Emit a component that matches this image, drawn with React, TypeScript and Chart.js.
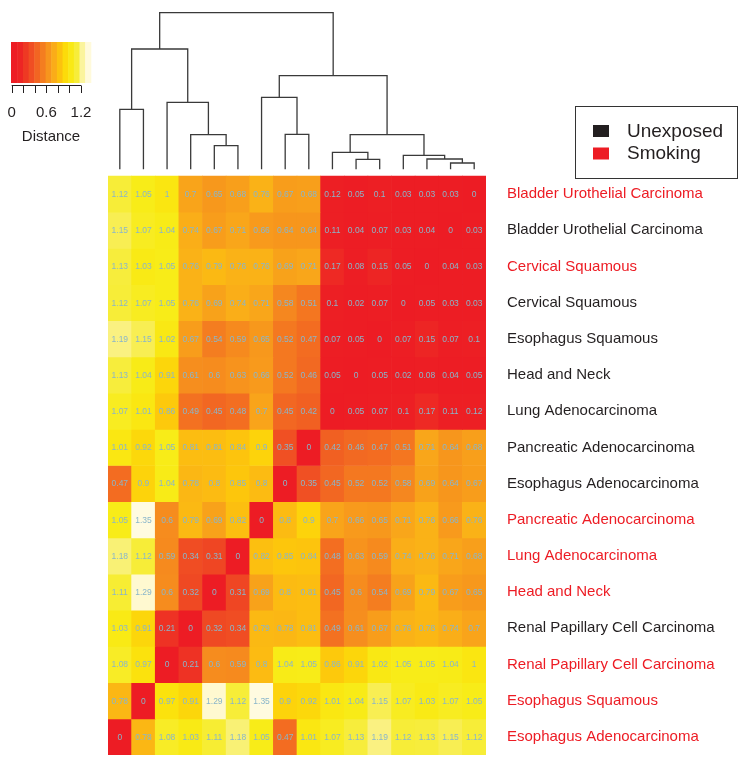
import React, { useEffect, useRef } from 'react';
import { Chart, registerables } from 'chart.js';

Chart.register(...registerables);

// ---------- data ----------
const ROW_LABELS = [
  'Bladder Urothelial Carcinoma',
  'Bladder Urothelial Carcinoma',
  'Cervical Squamous',
  'Cervical Squamous',
  'Esophagus Squamous',
  'Head and Neck',
  'Lung Adenocarcinoma',
  'Pancreatic Adenocarcinoma',
  'Esophagus Adenocarcinoma',
  'Pancreatic Adenocarcinoma',
  'Lung Adenocarcinoma',
  'Head and Neck',
  'Renal Papillary Cell Carcinoma',
  'Renal Papillary Cell Carcinoma',
  'Esophagus Squamous',
  'Esophagus Adenocarcinoma',
];

const ROW_GROUPS = [
  'Smoking', 'Unexposed', 'Smoking', 'Unexposed', 'Unexposed', 'Unexposed',
  'Unexposed', 'Unexposed', 'Unexposed', 'Smoking', 'Smoking', 'Smoking',
  'Unexposed', 'Smoking', 'Smoking', 'Smoking',
];

const COLUMNS = [0, 1, 2, 3, 4, 5, 6, 7, 8, 9, 10, 11, 12, 13, 14, 15];

const DISTANCES: number[][] = [
  [1.12, 1.05, 1, 0.7, 0.65, 0.68, 0.76, 0.67, 0.68, 0.12, 0.05, 0.1, 0.03, 0.03, 0.03, 0],
  [1.15, 1.07, 1.04, 0.74, 0.67, 0.71, 0.66, 0.64, 0.64, 0.11, 0.04, 0.07, 0.03, 0.04, 0, 0.03],
  [1.13, 1.03, 1.05, 0.76, 0.79, 0.76, 0.76, 0.69, 0.71, 0.17, 0.08, 0.15, 0.05, 0, 0.04, 0.03],
  [1.12, 1.07, 1.05, 0.76, 0.69, 0.74, 0.71, 0.58, 0.51, 0.1, 0.02, 0.07, 0, 0.05, 0.03, 0.03],
  [1.19, 1.15, 1.02, 0.67, 0.54, 0.59, 0.65, 0.52, 0.47, 0.07, 0.05, 0, 0.07, 0.15, 0.07, 0.1],
  [1.13, 1.04, 0.91, 0.61, 0.6, 0.63, 0.66, 0.52, 0.46, 0.05, 0, 0.05, 0.02, 0.08, 0.04, 0.05],
  [1.07, 1.01, 0.86, 0.49, 0.45, 0.48, 0.7, 0.45, 0.42, 0, 0.05, 0.07, 0.1, 0.17, 0.11, 0.12],
  [1.01, 0.92, 1.05, 0.81, 0.81, 0.84, 0.9, 0.35, 0, 0.42, 0.46, 0.47, 0.51, 0.71, 0.64, 0.68],
  [0.47, 0.9, 1.04, 0.78, 0.8, 0.85, 0.8, 0, 0.35, 0.45, 0.52, 0.52, 0.58, 0.69, 0.64, 0.67],
  [1.05, 1.35, 0.6, 0.79, 0.69, 0.82, 0, 0.8, 0.9, 0.7, 0.66, 0.65, 0.71, 0.76, 0.66, 0.76],
  [1.18, 1.12, 0.59, 0.34, 0.31, 0, 0.82, 0.85, 0.84, 0.48, 0.63, 0.59, 0.74, 0.76, 0.71, 0.68],
  [1.11, 1.29, 0.6, 0.32, 0, 0.31, 0.69, 0.8, 0.81, 0.45, 0.6, 0.54, 0.69, 0.79, 0.67, 0.65],
  [1.03, 0.91, 0.21, 0, 0.32, 0.34, 0.79, 0.78, 0.81, 0.49, 0.61, 0.67, 0.76, 0.78, 0.74, 0.7],
  [1.08, 0.97, 0, 0.21, 0.6, 0.59, 0.8, 1.04, 1.05, 0.86, 0.91, 1.02, 1.05, 1.05, 1.04, 1],
  [0.78, 0, 0.97, 0.91, 1.29, 1.12, 1.35, 0.9, 0.92, 1.01, 1.04, 1.15, 1.07, 1.03, 1.07, 1.05],
  [0, 0.78, 1.08, 1.03, 1.11, 1.18, 1.05, 0.47, 1.01, 1.07, 1.13, 1.19, 1.12, 1.13, 1.15, 1.12],
];

// dendrogram over columns: nodes 0..15 are leaves, 16+k is merge k
const DEND_LEFT = [0, 4, 3, 2, 16, 7, 6, 10, 9, 14, 13, 12, 24, 22, 20];
const DEND_RIGHT = [1, 5, 17, 18, 19, 8, 21, 11, 23, 15, 25, 26, 27, 28, 29];
const DEND_HEIGHT = [0.6, 0.236, 0.346, 0.67, 1.203, 0.35, 0.72, 0.1, 0.17, 0.063, 0.103, 0.14, 0.346, 0.936, 1.566];

const COLORBAR_TICKS = [0, 0.2, 0.4, 0.6, 0.8, 1.0, 1.2];
const COLORBAR_LABEL_VALUES = [0, 0.6, 1.2];
const COLORBAR_MAX = 1.37;

const LEGEND_LABELS = ['Unexposed', 'Smoking'];
const LEGEND_COLORS = ['#231F20', '#ED1C24'];
const GROUP_TEXT_COLORS: Record<string, string> = { Unexposed: '#231F20', Smoking: '#ED1C24' };

// ---------- colour scale ----------
const STOPS: [number, number, number, number][] = [
  [0, 237, 28, 36],
  [0.12, 237, 31, 36],
  [0.3, 239, 68, 35],
  [0.45, 242, 103, 34],
  [0.6, 246, 140, 30],
  [0.75, 250, 176, 24],
  [0.85, 253, 198, 12],
  [0.95, 252, 224, 10],
  [1.05, 248, 236, 24],
  [1.13, 247, 237, 60],
  [1.2, 250, 242, 140],
  [1.3, 255, 250, 215],
  [1.4, 255, 252, 232],
];

function heatColor(v: number): string {
  if (v <= STOPS[0][0]) return `rgb(${STOPS[0][1]},${STOPS[0][2]},${STOPS[0][3]})`;
  for (let i = 1; i < STOPS.length; i++) {
    if (v <= STOPS[i][0]) {
      const a = STOPS[i - 1], b = STOPS[i];
      const t = (v - a[0]) / (b[0] - a[0]);
      const c = [1, 2, 3].map((k) => Math.round(a[k] + (b[k] - a[k]) * t));
      return `rgb(${c[0]},${c[1]},${c[2]})`;
    }
  }
  const l = STOPS[STOPS.length - 1];
  return `rgb(${l[1]},${l[2]},${l[3]})`;
}

const FONT = '"Liberation Sans", Arial, Helvetica, sans-serif';
const N = ROW_LABELS.length;
// calibration of vertical axes (chart area 12..755 px)
const Y_MAX = 16 + 164 / 36.1875;
const YD_MAX = 1.573;
const YD_MIN = -5.857;

function nodeX(id: number): number {
  if (id < N) return id;
  const k = id - N;
  return (nodeX(DEND_LEFT[k]) + nodeX(DEND_RIGHT[k])) / 2;
}
function nodeH(id: number): number {
  return id < N ? 0 : DEND_HEIGHT[id - N];
}

const cellTextPlugin = {
  id: 'cellText',
  afterDatasetsDraw(chart: any) {
    const ctx = chart.ctx;
    ctx.save();
    ctx.font = `8.5px ${FONT}`;
    ctx.fillStyle = '#8AB6CA';
    ctx.textAlign = 'center';
    ctx.textBaseline = 'middle';
    chart.data.datasets.forEach((ds: any, di: number) => {
      if (ds.type !== 'bar') return;
      const meta = chart.getDatasetMeta(di);
      meta.data.forEach((el: any, j: number) => {
        const p = el.getProps(['x', 'y', 'base'], true);
        ctx.fillText(String(ds.values[j]), p.x, (p.y + p.base) / 2 + 0.5);
      });
    });
    ctx.restore();
  },
};

const legendsPlugin = {
  id: 'legends',
  afterDraw(chart: any) {
    const ctx = chart.ctx;
    ctx.save();
    // colour key
    const x0 = 11.7, pxPerUnit = 57.75, top = 42, bottom = 83;
    const bands = 14;
    for (let i = 0; i < bands; i++) {
      const v0 = (COLORBAR_MAX * i) / bands;
      const v1 = (COLORBAR_MAX * (i + 1)) / bands;
      ctx.fillStyle = heatColor((v0 + v1) / 2);
      const xa = i === 0 ? 11 : x0 + v0 * pxPerUnit;
      ctx.fillRect(xa, top, x0 + v1 * pxPerUnit - xa + 0.5, bottom - top);
    }
    ctx.strokeStyle = '#231F20';
    ctx.lineWidth = 1;
    ctx.beginPath();
    ctx.moveTo(x0, 85.5);
    ctx.lineTo(x0 + 1.2 * pxPerUnit, 85.5);
    COLORBAR_TICKS.forEach((t) => {
      const x = Math.round(x0 + t * pxPerUnit) + 0.5;
      ctx.moveTo(x, 85.5);
      ctx.lineTo(x, 93);
    });
    ctx.stroke();
    ctx.fillStyle = '#231F20';
    ctx.font = `15px ${FONT}`;
    ctx.textAlign = 'center';
    ctx.textBaseline = 'middle';
    COLORBAR_LABEL_VALUES.forEach((v) => {
      ctx.fillText(String(v), x0 + v * pxPerUnit, 113);
    });
    ctx.fillText('Distance', 51, 137);

    // group legend
    ctx.strokeStyle = '#333';
    ctx.lineWidth = 1;
    ctx.strokeRect(575.5, 106.5, 162, 72);
    ctx.font = `19px ${FONT}`;
    ctx.textAlign = 'left';
    LEGEND_LABELS.forEach((lab, i) => {
      const cy = 131 + i * 22.5;
      ctx.fillStyle = LEGEND_COLORS[i];
      ctx.fillRect(593, cy - 6, 16, 12);
      ctx.fillStyle = '#231F20';
      ctx.fillText(lab, 627, cy + 0.5);
    });
    ctx.restore();
  },
};

export default function App() {
  const ref = useRef<HTMLCanvasElement | null>(null);

  useEffect(() => {
    if (!ref.current) return;
    const barSets = DISTANCES.map((row, r) => ({
      type: 'bar' as const,
      label: `${ROW_LABELS[r]} (${ROW_GROUPS[r]})`,
      values: row,
      data: COLUMNS.map((c) => ({ x: c, y: [N - 1 - r, N - r] })),
      backgroundColor: row.map((v) => heatColor(v)),
      borderWidth: 0,
      grouped: false,
      categoryPercentage: 1,
      barPercentage: 1,
      xAxisID: 'x',
      yAxisID: 'y',
      order: 2,
    }));
    const dendSets = DEND_HEIGHT.map((h, k) => {
      const l = DEND_LEFT[k], rr = DEND_RIGHT[k];
      return {
        type: 'line' as const,
        label: `merge ${k}`,
        data: [
          { x: nodeX(l), y: nodeH(l) },
          { x: nodeX(l), y: h },
          { x: nodeX(rr), y: h },
          { x: nodeX(rr), y: nodeH(rr) },
        ],
        borderColor: '#3a3a3a',
        borderWidth: 1.3,
        pointRadius: 0,
        tension: 0,
        fill: false,
        clip: false as any,
        xAxisID: 'x',
        yAxisID: 'yd',
        order: 1,
      };
    });

    const chart = new Chart(ref.current, {
      type: 'bar',
      data: { datasets: [...barSets, ...dendSets] as any },
      options: {
        animation: false,
        responsive: false,
        maintainAspectRatio: false,
        layout: { padding: { left: 108, top: 12, bottom: 16, right: 0 } },
        plugins: { legend: { display: false }, tooltip: { enabled: false } },
        scales: {
          x: {
            type: 'linear',
            min: -0.5,
            max: 15.5,
            offset: false,
            display: false,
          },
          y: {
            type: 'linear',
            position: 'right',
            min: 0,
            max: Y_MAX,
            grid: { display: false, drawTicks: false },
            border: { display: false },
            afterBuildTicks: (scale: any) => {
              scale.ticks = ROW_LABELS.map((_, r) => ({ value: N - 0.5 - r }));
            },
            afterFit: (scale: any) => {
              scale.width = 260;
              scale.paddingTop = 0;
              scale.paddingBottom = 0;
            },
            ticks: {
              autoSkip: false,
              padding: 21,
              font: { family: FONT, size: 15 },
              color: (c: any) => {
                const r = Math.round(N - 0.5 - (c.tick ? c.tick.value : 0));
                return GROUP_TEXT_COLORS[ROW_GROUPS[r]] || '#231F20';
              },
              callback: (value: any) => ROW_LABELS[Math.round(N - 0.5 - Number(value))],
            },
          },
          yd: {
            type: 'linear',
            display: false,
            min: YD_MIN,
            max: YD_MAX,
          },
        },
      },
      plugins: [cellTextPlugin, legendsPlugin],
    });
    return () => chart.destroy();
  }, []);

  return (
    <div style={{ position: 'fixed', left: 0, top: 0, width: 746, height: 771, background: '#fff' }}>
      <canvas ref={ref} width={746} height={771} style={{ width: 746, height: 771, display: 'block' }} />
    </div>
  );
}
